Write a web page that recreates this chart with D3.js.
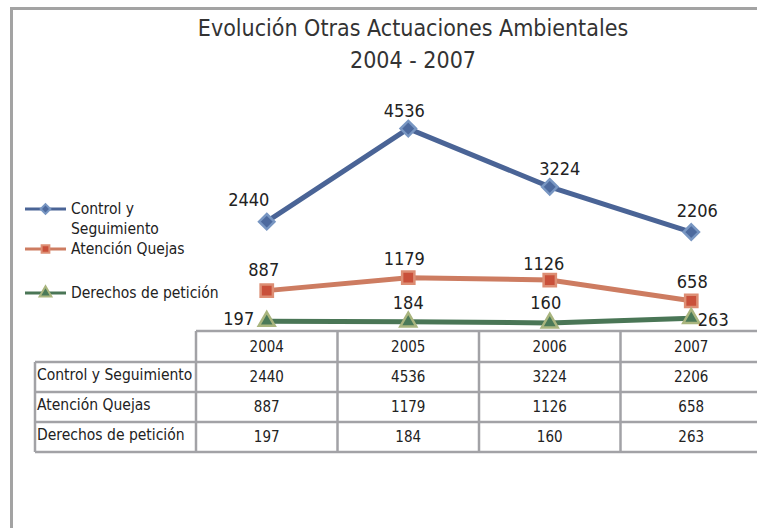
<!DOCTYPE html>
<html>
<head>
<meta charset="utf-8">
<script src="https://cdn.jsdelivr.net/npm/d3@7"></script>
<style>
  body { margin: 0; background: #fff; }
  text { font-family: "Liberation Sans Narrow", "DejaVu Sans Condensed", "Open Sans", sans-serif; fill: #222; }
</style>
</head>
<body>
<div class="chart"></div>
<script>
// data
const years = ['2004', '2005', '2006', '2007'];
const seriesNames = ['Control y Seguimiento', 'Atención Quejas', 'Derechos de petición'];
const controlValues = [2440, 4536, 3224, 2206];
const quejasValues = [887, 1179, 1126, 658];
const peticionValues = [197, 184, 160, 263];
const titleLines = ['Evolución Otras Actuaciones Ambientales', '2004 - 2007'];

const width = 757;
const height = 528;

const svg = d3.select('.chart')
  .append('svg')
    .attr('width', width)
    .attr('height', height);

// outer frame
svg.append('rect')
  .attr('x', 11.5).attr('y', 8.5)
  .attr('width', 800).attr('height', 600)
  .attr('fill', 'none')
  .attr('stroke', '#a3a3a3')
  .attr('stroke-width', 3);

// title
svg.selectAll('.title')
  .data(titleLines)
  .enter()
  .append('text')
    .attr('class', 'title')
    .attr('x', 413)
    .attr('y', (d, i) => 36 + i * 32)
    .attr('text-anchor', 'middle')
    .style('font-size', '23px')
    .style('fill', '#333')
    .text(d => d);

// scales
const tableLeft = 196;
const xScale = d3.scaleBand()
  .domain(years)
  .range([tableLeft, 762]);
const cx = y => xScale(y) + xScale.bandwidth() / 2;

const yScale = d3.scaleLinear()
  .domain([0, 5000])
  .range([330, 108]);

const series = [
  { name: seriesNames[0], values: controlValues, line: '#4a6496', fill: '#4d6a9e', stroke: '#7896c2', symbol: d3.symbolDiamond2, size: 150,
    labelOffsets: [[-18, -16], [-4, -12], [10, -12], [6, -15]] },
  { name: seriesNames[1], values: quejasValues, line: '#cd7c61', fill: '#c9503a', stroke: '#dd8e74', symbol: d3.symbolSquare, size: 150,
    labelOffsets: [[-3, -15], [-4, -13], [-6, -10], [1, -13]] },
  { name: seriesNames[2], values: peticionValues, line: '#4a7656', fill: '#4b7a58', stroke: '#a9b57e', symbol: d3.symbolTriangle, size: 110,
    labelOffsets: [[-28, 4], [0, -13], [-4, -14], [22, 8]] }
];

// lines
const drawLine = d3.line()
  .x((d, i) => cx(years[i]))
  .y(d => yScale(d));

svg.selectAll('.line')
  .data(series)
  .enter()
  .append('path')
    .attr('class', 'line')
    .attr('d', d => drawLine(d.values))
    .style('stroke', d => d.line)
    .style('stroke-width', 5)
    .style('fill', 'none');

// markers + labels
series.forEach(s => {
  const g = svg.append('g');
  g.selectAll('path')
    .data(s.values)
    .enter()
    .append('path')
      .attr('transform', (d, i) => `translate(${cx(years[i])}, ${yScale(d)})`)
      .attr('d', d3.symbol().type(s.symbol).size(s.size))
      .style('fill', s.fill)
      .style('stroke', s.stroke)
      .style('stroke-width', 2.5);

  g.selectAll('text')
    .data(s.values)
    .enter()
    .append('text')
      .attr('x', (d, i) => cx(years[i]) + s.labelOffsets[i][0])
      .attr('y', (d, i) => yScale(d) + s.labelOffsets[i][1])
      .attr('text-anchor', 'middle')
      .style('font-size', '18px')
      .text(d => d);
});

// legend
const legendRows = [
  { s: series[0], y: 209, lines: ['Control y', 'Seguimiento'] },
  { s: series[1], y: 249, lines: ['Atención Quejas'] },
  { s: series[2], y: 293, lines: ['Derechos de petición'] }
];
const legend = svg.append('g');
legendRows.forEach(r => {
  legend.append('line')
    .attr('x1', 25).attr('x2', 66)
    .attr('y1', r.y).attr('y2', r.y)
    .style('stroke', r.s.line)
    .style('stroke-width', 3);
  legend.append('path')
    .attr('transform', `translate(45.5, ${r.y})`)
    .attr('d', d3.symbol().type(r.s.symbol).size(60))
    .style('fill', r.s.fill)
    .style('stroke', r.s.stroke)
    .style('stroke-width', 2);
  r.lines.forEach((t, i) => {
    legend.append('text')
      .attr('x', 71)
      .attr('y', r.y + 5 + i * 20)
      .style('font-size', '15.5px')
      .text(t);
  });
});

// data table
const rowTops = [331, 362, 392, 422, 452];
const labelLeft = 35;
const gridColor = '#a2a2a6';
const table = svg.append('g');

// horizontal lines
rowTops.forEach((y, i) => {
  table.append('line')
    .attr('x1', i === 0 ? tableLeft : labelLeft).attr('x2', 760)
    .attr('y1', y).attr('y2', y)
    .style('stroke', gridColor).style('stroke-width', 2.5);
});
// vertical lines
table.append('line')
  .attr('x1', labelLeft).attr('x2', labelLeft)
  .attr('y1', rowTops[1]).attr('y2', rowTops[4])
  .style('stroke', gridColor).style('stroke-width', 2.5);
years.forEach(y => {
  table.append('line')
    .attr('x1', xScale(y)).attr('x2', xScale(y))
    .attr('y1', rowTops[0]).attr('y2', rowTops[4])
    .style('stroke', gridColor).style('stroke-width', 2.5);
});

// header
table.selectAll('.yr')
  .data(years)
  .enter()
  .append('text')
    .attr('x', d => cx(d))
    .attr('y', (rowTops[0] + rowTops[1]) / 2 + 5)
    .attr('text-anchor', 'middle')
    .style('font-size', '15px')
    .text(d => d);

// body rows
series.forEach((s, r) => {
  const yMid = (rowTops[r + 1] + rowTops[r + 2]) / 2 + 5;
  table.append('text')
    .attr('x', labelLeft + 2)
    .attr('y', yMid - 2)
    .style('font-size', '15.5px')
    .text(s.name);
  table.selectAll('.v' + r)
    .data(s.values)
    .enter()
    .append('text')
      .attr('x', (d, i) => cx(years[i]))
      .attr('y', yMid)
      .attr('text-anchor', 'middle')
      .style('font-size', '15px')
      .text(d => d);
});
</script>
</body>
</html>
